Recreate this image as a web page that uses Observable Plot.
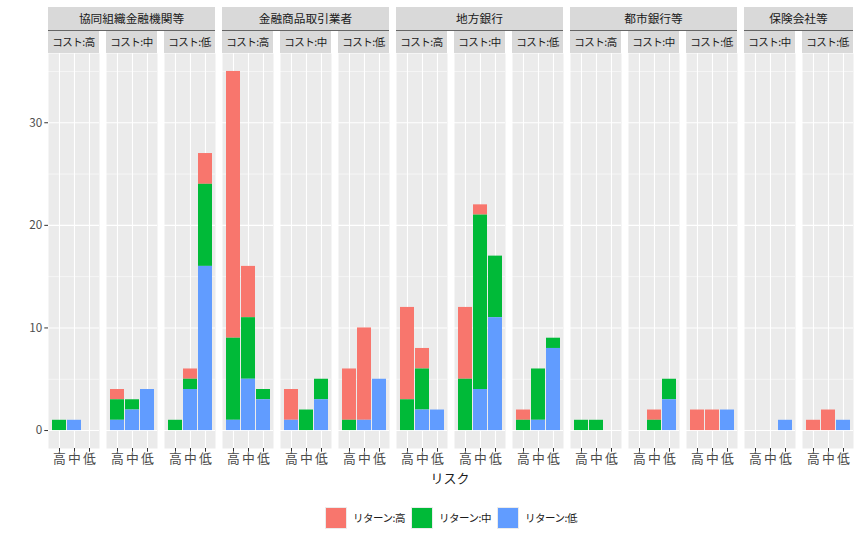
<!DOCTYPE html>
<html>
<head>
<meta charset="utf-8">
<script src="https://cdn.jsdelivr.net/npm/d3@7"></script>
<script src="https://cdn.jsdelivr.net/npm/@observablehq/plot@0.6"></script>
<style>
  html, body { margin: 0; padding: 0; background: white; }
  #wrap { width: 862px; font-family: "Noto Sans CJK JP", sans-serif; }
  #legend { height: 55px; display: flex; justify-content: flex-start; align-items: center; padding-left: 325px; box-sizing: border-box; }
  .item { display: flex; align-items: center; width: 86px; font-size: 10.5px; letter-spacing: -0.5px; color: #1A1A1A; }
  .sw { width: 22px; height: 22px; box-sizing: border-box; border: 1px solid #EBEBEB; margin-right: 6px; flex: none; }
</style>
</head>
<body>
<div id="wrap"><div id="chart"></div><div id="legend"></div></div>
<script>
// ---- data ----
const institutions = ["協同組織金融機関等", "金融商品取引業者", "地方銀行", "都市銀行等", "保険会社等"];
const costLevels = [["高", "中", "低"], ["高", "中", "低"], ["高", "中", "低"], ["高", "中", "低"], ["中", "低"]];
const risks = ["高", "中", "低"];
const returns = ["リターン:高", "リターン:中", "リターン:低"];
const colors = ["#F8766D", "#00BA38", "#619CFF"];
// each row: one panel (institution × cost), values for risk 高, 中, 低
const returnHigh = [
  [0,0,0],[1,0,0],[0,1,3],
  [26,5,0],[3,0,0],[5,9,0],
  [9,2,0],[7,1,0],[1,0,0],
  [0,0,0],[0,1,0],[2,2,0],
  [0,0,0],[1,2,0]
];
const returnMid = [
  [1,0,0],[2,1,0],[1,1,8],
  [8,6,1],[0,2,2],[1,0,0],
  [3,4,0],[5,17,6],[1,5,1],
  [1,1,0],[0,1,2],[0,0,0],
  [0,0,0],[0,0,0]
];
const returnLow = [
  [0,1,0],[1,2,4],[0,4,16],
  [1,5,3],[1,0,3],[0,1,5],
  [0,2,2],[0,4,11],[0,1,8],
  [0,0,0],[0,0,3],[0,0,2],
  [0,0,1],[0,0,1]
];
const yTicks = [0, 10, 20, 30];
const yMinor = [5, 15, 25, 35];

// ---- build table ----
const panels = [];
institutions.forEach((inst, i) => costLevels[i].forEach(c => panels.push({inst, cost: c, key: inst + "|" + c})));
const series = [returnHigh, returnMid, returnLow];
const data = [];
panels.forEach((p, i) => risks.forEach((r, j) => returns.forEach((ret, k) => {
  const v = series[k][i][j];
  if (v > 0) data.push({panel: p.key, risk: r, ret, n: v});
})));

const W = 862, H = 490, mL = 46, mR = 8, mT = 53, mB = 42;

const plot = Plot.plot({
  width: W, height: H,
  marginLeft: mL, marginRight: mR, marginTop: mT, marginBottom: mB,
  style: {fontFamily: "'Noto Sans CJK JP', sans-serif", fontSize: "11.7px", background: "white", overflow: "visible"},
  fx: {domain: panels.map(p => p.key), paddingInner: 0.126, paddingOuter: 0, axis: null, label: null},
  x: {domain: risks, paddingInner: 0.1, paddingOuter: 0.15, label: null, axis: null},
  y: {domain: [-1.75, 36.75], label: null, axis: null},
  color: {domain: returns, range: colors},
  marks: [
    Plot.frame({fill: "#EBEBEB", stroke: null}),
    Plot.gridY(yMinor, {stroke: "white", strokeOpacity: 1, strokeWidth: 0.55}),
    Plot.gridY(yTicks, {stroke: "white", strokeOpacity: 1, strokeWidth: 1.1}),
    Plot.gridX({stroke: "white", strokeOpacity: 1, strokeWidth: 1.1}),
    Plot.barY(data, {fx: "panel", x: "risk", y: "n", fill: "ret", order: ["リターン:低", "リターン:中", "リターン:高"], inset: 0}),
    Plot.axisY({ticks: yTicks, tickSize: 3.7, tickPadding: 2.5, stroke: "#333333", fill: "#4D4D4D", label: null, fontSize: "11.7px"}),
    Plot.axisX({tickSize: 3.7, tickPadding: 2, stroke: "#333333", fill: "#4D4D4D", label: null, fontSize: "12.8px"})
  ]
});

document.getElementById("chart").appendChild(plot);

// ---- nested strips ----
const fx = plot.scale("fx");
const bw = fx.bandwidth;
const svg = d3.select(plot);
const g = svg.append("g").attr("font-family", "'Noto Sans CJK JP', sans-serif").attr("fill", "#1A1A1A");
panels.forEach(p => {
  const x0 = fx.apply(p.key);
  g.append("rect").attr("x", x0).attr("y", 31).attr("width", bw).attr("height", 22).attr("fill", "#D9D9D9");
  g.append("text").attr("x", x0 + bw / 2).attr("y", 42).attr("dy", "0.35em").attr("text-anchor", "middle")
    .attr("font-size", "10.5px").attr("letter-spacing", "-0.5px").text("コスト:" + p.cost);
});
institutions.forEach(inst => {
  const ps = panels.filter(p => p.inst === inst);
  const x0 = fx.apply(ps[0].key);
  const x1 = fx.apply(ps[ps.length - 1].key) + bw;
  g.append("rect").attr("x", x0).attr("y", 7).attr("width", x1 - x0).attr("height", 23).attr("fill", "#D9D9D9");
  g.append("line").attr("x1", x0).attr("x2", x1).attr("y1", 30.5).attr("y2", 30.5).attr("stroke", "#666666").attr("stroke-width", 1);
  g.append("text").attr("x", (x0 + x1) / 2).attr("y", 19).attr("dy", "0.35em").attr("text-anchor", "middle")
    .attr("font-size", "11.7px").text(inst);
});
// x axis title
svg.append("text").attr("x", (mL + W - mR) / 2).attr("y", 478).attr("dy", "0.35em").attr("text-anchor", "middle")
  .attr("font-family", "'Noto Sans CJK JP', sans-serif").attr("font-size", "13px").attr("fill", "#1A1A1A").text("リスク");

// ---- legend ----
const leg = d3.select("#legend");
returns.forEach((r, i) => {
  const it = leg.append("div").attr("class", "item");
  it.append("div").attr("class", "sw").style("background", colors[i]);
  it.append("span").text(r);
});
</script>
</body>
</html>
